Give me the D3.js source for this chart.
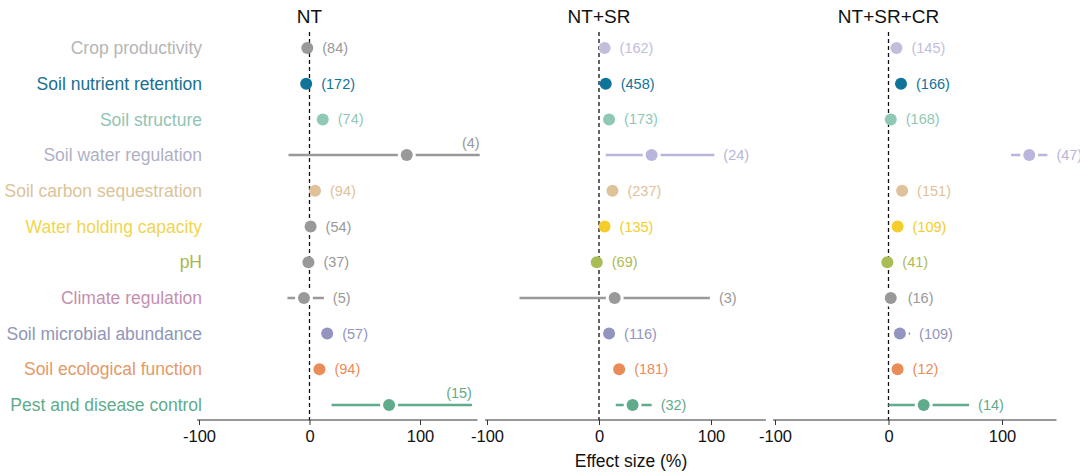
<!DOCTYPE html>
<html><head><meta charset="utf-8">
<script src="https://cdn.jsdelivr.net/npm/d3@7"></script>
<style>body{margin:0;background:#fff}text{font-family:Arial,"Liberation Sans",sans-serif}</style>
</head><body><svg id="c" width="1080" height="473"></svg>
<script>
const categories=["Crop productivity","Soil nutrient retention","Soil structure","Soil water regulation","Soil carbon sequestration","Water holding capacity","pH","Climate regulation","Soil microbial abundance","Soil ecological function","Pest and disease control"];
const labelColors=["#b5b5b5","#1a7090","#92c4b4","#b0b0c4","#dcc398","#f0d550","#a8b848","#c490b0","#8f96b8","#e39a68","#5fab8c"];
const pointColors=["#c3bddb","#10739a","#8fc8b4","#b8b6dc","#e0c29a","#f5cd2a","#a9bd55","#c490b0","#9395c0","#ea8c58","#5fab8c"];
const panels=["NT","NT+SR","NT+SR+CR"];
// effect, lo, hi (null = no CI), n, significant
const ntVal=[-2,-3,12,88,5,1,-1,-5,16,9,72];
const ntLo=[null,null,null,-19,null,null,null,-20,null,null,20];
const ntHi=[null,null,null,154,null,null,null,13,null,null,147];
const ntN=[84,172,74,4,94,54,37,5,57,94,15];
const ntSig=[0,1,1,0,1,0,0,0,1,1,1];
const srVal=[5,6,9,47,12,5,-2,14,9,18,30];
const srLo=[null,null,null,6,null,null,null,-71,null,null,15];
const srHi=[null,null,null,103,null,null,null,99,null,null,47];
const srN=[162,458,173,24,237,135,69,3,116,181,32];
const srSig=[1,1,1,1,1,1,1,0,1,1,1];
const crVal=[7,11,2,124,12,8,-1,2,10,8,31];
const crLo=[null,null,null,108,null,null,null,null,null,null,0];
const crHi=[null,null,null,140,null,null,null,9,19,null,71];
const crN=[145,166,168,47,151,109,41,16,109,12,14];
const crSig=[1,1,1,1,1,1,1,0,1,1,1];
const xTicks=[-100,0,100];

const svg=d3.select("#c");
const y=d3.scalePoint().domain(categories).range([48,405]);
svg.selectAll(".lab").data(categories).join("text").attr("x",202).attr("y",d=>y(d)).attr("dy","0.35em")
 .attr("text-anchor","end").attr("font-size",17.5).attr("fill",(d,i)=>labelColors[i]).text(d=>d);

const pdefs=[
 {name:panels[0],v:ntVal,lo:ntLo,hi:ntHi,n:ntN,s:ntSig,r0:199,r1:420,end:152,above:true},
 {name:panels[1],v:srVal,lo:srLo,hi:srHi,n:srN,s:srSig,r0:487,r1:711,end:149,above:false},
 {name:panels[2],v:crVal,lo:crLo,hi:crHi,n:crN,s:crSig,r0:775,r1:1002,end:148,above:false}];
const grey="#999999";
pdefs.forEach(p=>{
 const x=d3.scaleLinear().domain([-100,100]).range([p.r0,p.r1]);
 const g=svg.append("g");
 g.append("text").attr("x",x(0)).attr("y",23).attr("text-anchor","middle").attr("font-size",19).attr("fill","#111").text(p.name);
 const ax=g.append("g").attr("transform","translate(0,420)").call(d3.axisBottom(x).tickValues(xTicks).tickFormat(d=>String(d)).tickSize(5).tickSizeOuter(0));
 ax.select(".domain").attr("d",`M${x(-100)-2},0H${x(p.end)}`).attr("stroke","#333");
 ax.selectAll("line").attr("stroke","#333");
 ax.selectAll("text").attr("font-size",16.5).attr("fill","#111").attr("dy","0.85em");
 g.append("line").attr("x1",x(0)).attr("x2",x(0)).attr("y1",32).attr("y2",420).attr("stroke","#111").attr("stroke-dasharray","4,3").attr("stroke-width",1.3);
 categories.forEach((c,i)=>{
  const col=p.s[i]?pointColors[i]:grey;
  const cy=y(c);
  const lo=p.lo[i]==null?p.v[i]:p.lo[i], hi=p.hi[i]==null?p.v[i]:p.hi[i];
  if(p.lo[i]!=null||p.hi[i]!=null){
   g.append("line").attr("x1",x(lo)).attr("x2",x(hi)).attr("y1",cy).attr("y2",cy).attr("stroke",col).attr("stroke-width",2.5);
   g.append("circle").attr("cx",x(p.v[i])).attr("cy",cy).attr("r",9).attr("fill","#fff");
  }
  g.append("circle").attr("cx",x(p.v[i])).attr("cy",cy).attr("r",6).attr("fill",col);
  const right=Math.max(x(hi),x(p.v[i])+6);
  const above=p.above&&hi>=p.end-10;
  const t=g.append("text").attr("font-size",14.5).attr("fill",col).text(`(${p.n[i]})`);
  if(above) t.attr("x",x(hi)).attr("y",cy-7).attr("text-anchor","end");
  else t.attr("x",right+9).attr("y",cy).attr("dy","0.35em");
 });
});
svg.append("text").attr("x",631).attr("y",467).attr("text-anchor","middle").attr("font-size",17.5).attr("fill","#111").text("Effect size (%)");
</script></body></html>
